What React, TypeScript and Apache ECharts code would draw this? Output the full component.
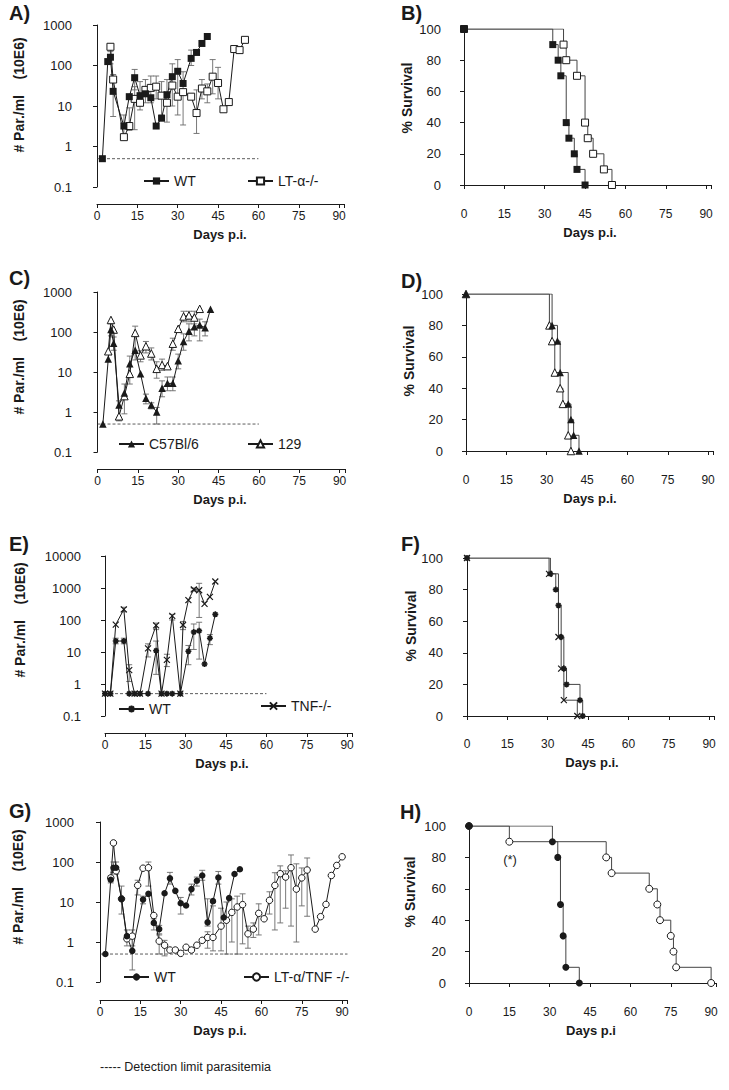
import React, { useEffect, useRef } from 'react';
import * as echarts from 'echarts';

const FONT = '"Liberation Sans", Arial, Helvetica, sans-serif';
const INK = '#1a1a1a';
const GREY = '#6a6a6a';

// ---------- Parasitemia data: [day, parasites x10E6/ml] ----------
const A_WT = [[2,0.5],[4,125],[5,160],[6,23],[10,3.2],[12,17],[14,50],[16,18],[18,20],[20,16],[22,3.2],[24,5],[26,19],[28,53],[30,72],[32,36],[35,150],[37,210],[39,350],[41,520]];
const A_LT = [[5,290],[6,45],[10,1.7],[12,3.2],[14,15],[16,12],[18,25],[20,28],[22,30],[24,18],[26,12],[28,32],[30,17],[32,22],[35,17],[37,6.7],[39,27],[41,23],[43,53],[45,37],[47,8.3],[49,12.5],[51,255],[53,240],[55,430]];
const A_ERR = [[5,110,220],[6,5.5,60],[10,1.8,6],[12,2.5,9],[14,25,80],[14,2.6,30],[16,8,40],[18,12,45],[20,12,55],[22,15,55],[24,6,40],[26,4,45],[28,10,110],[30,6,140],[32,3.4,70],[35,100,240],[37,2.1,25],[39,15,45],[41,12,35],[43,20,140],[45,15,90]];

const C_B6 = [[2,0.5],[4,21],[5,115],[6,52],[8,1.5],[10,3],[12,16],[14,35],[16,9],[18,2.2],[20,1.5],[22,1],[24,3.9],[26,5.2],[28,5.2],[30,19],[32,58],[34,105],[36,135],[38,150],[40,128],[42,370]];
const C_129 = [[4,33],[5,200],[6,115],[8,0.78],[10,2.5],[12,9],[14,95],[16,26],[18,44],[20,29],[22,12],[24,15],[26,14],[28,51],[30,120],[32,245],[34,260],[36,230],[38,380]];
const C_ERR = [[5,80,160],[6,35,75],[8,0.6,1.9],[10,0.9,5],[12,5,25],[14,20,140],[16,18,34],[18,30,58],[18,1.6,2.8],[20,20,40],[20,1.2,1.7],[22,0.5,1.3],[22,7,18],[24,2.4,6],[24,11,21],[26,3.4,7.5],[28,3.4,7.5],[28,35,70],[30,12,28],[32,35,90],[32,180,330],[34,60,160],[34,180,330],[36,80,220],[36,160,330],[38,60,210],[40,80,180]];

const E_WT = [[0,0.5],[2,0.5],[4,22],[7,22],[9,0.5],[11,0.5],[13,0.5],[16,0.5],[19,11],[21,0.5],[23,0.5],[25,0.5],[28,0.5],[31,10.5],[33,42],[35,46],[37,4.2],[39,27],[41,150]];
const E_TNF = [[0,0.5],[2,0.5],[4,72],[7,215],[9,2.7],[11,0.5],[13,0.5],[16,13],[19,68],[21,0.5],[23,5.7],[25,135],[28,0.5],[29,70],[31,420],[33,900],[35,850],[37,320],[39,530],[41,1600]];
const E_ERR = [[4,18,27],[7,18,27],[7,180,250],[9,1.2,4],[16,7,18],[19,50,80],[19,2,22],[23,3.5,8.5],[25,100,150],[29,50,90],[31,4,16],[33,800,1000],[33,12,75],[35,120,1400],[35,6,85],[39,17,35]];

const G_WT = [[2,0.5],[4,36],[5,72],[6,72],[8,12],[10,1.4],[12,0.6],[16,11.5],[18,16],[20,3],[22,2.1],[24,16.5],[26,39],[28,19],[30,9.3],[32,8.2],[34,21],[36,34],[38,46],[40,3.1],[42,10.5],[44,41],[46,4.1],[48,12.5],[50,50],[52,66]];
const G_DKO = [[4,40],[5,300],[6,60],[8,12],[10,1.2],[12,1.4],[14,26],[16,70],[18,72],[20,4.6],[22,1.05],[24,0.83],[26,0.63],[28,0.63],[30,0.52],[32,0.74],[34,0.63],[36,0.83],[38,1.1],[40,1.3],[42,1.3],[45,2.5],[47,3.5],[49,5.5],[51,7.5],[53,8.6],[55,1.6],[57,2.1],[59,5.2],[61,3.8],[63,11],[65,26],[67,51],[69,42],[71,72],[73,21],[75,40],[77,63],[80,2.1],[82,4.3],[84,8.7],[86,46],[88,82],[90,135]];
const G_ERR = [[4,30,45],[5,55,100],[6,50,100],[8,5,25],[10,0.8,2],[12,0.2,1.5],[12,0.8,2],[14,15,35],[16,9,14],[18,25,100],[20,2,3.8],[22,1.5,2.6],[22,0.5,1.6],[24,0.45,1.1],[26,28,55],[30,5,13],[34,15,28],[36,25,42],[38,35,62],[40,0.7,1.8],[40,2.5,12],[42,0.6,8],[44,28,58],[45,0.6,7],[47,0.5,10],[49,1,12],[51,0.5,14],[53,0.9,16],[55,0.7,2.5],[57,1.3,3],[59,1.5,9],[63,5,18],[65,2,54],[67,3,80],[69,7,60],[71,2.5,150],[73,1,90],[75,8,71],[77,4.4,126]];

// detection limit
const DETECTION = 0.5;

// ---------- Survival data: [day, % survival] ----------
const B_WT = [[0,100],[33,90],[35,80],[36,70],[38,40],[39,30],[41,20],[42,10],[45,0]];
const B_LT = [[0,100],[37,90],[38,80],[42,70],[45,40],[46,30],[48,20],[52,10],[55,0]];
const D_B6 = [[0,100],[32,80],[34,70],[35,50],[38,30],[39,20],[40,10],[42,0]];
const D_129 = [[0,100],[31,80],[32,70],[33,50],[35,40],[36,30],[38,10],[39,0]];
const F_WT = [[0,100],[31,90],[33,80],[34,70],[35,50],[36,30],[37,20],[42,10],[43,0]];
const F_TNF = [[0,100],[30.5,90],[34,50],[35,30],[36,10],[41,0]];
const H_WT = [[0,100],[31,90],[33,80],[34,50],[35,30],[36,10],[41,0]];
const H_DKO = [[0,100],[15,90],[51,80],[53,70],[67,60],[70,50],[71,40],[75,30],[76,20],[77,10],[90,0]];

const DAY_TICKS = [0, 15, 30, 45, 60, 75, 90];

const STAR = 'path://M5,0L5,10M0,5L10,5M1.5,1.5L8.5,8.5M8.5,1.5L1.5,8.5';
const CROSS = 'path://M0,0L10,10M10,0L0,10';

const PANELS = [
  { key: 'A', kind: 'para', grid: { left: 97, top: 25, height: 162 }, yMax: 1000, yOff: 19, xOff: 17 },
  { key: 'B', kind: 'surv', grid: { left: 464, top: 29, height: 156 }, yOff: 17, xOff: 17 },
  { key: 'C', kind: 'para', grid: { left: 97.5, top: 292, height: 160 }, yMax: 1000, yOff: 19.5, xOff: 17 },
  { key: 'D', kind: 'surv', grid: { left: 466, top: 294, height: 157 }, yOff: 17, xOff: 17 },
  { key: 'E', kind: 'para', grid: { left: 105, top: 556, height: 160 }, yMax: 10000, yOff: 18, xOff: 17 },
  { key: 'F', kind: 'surv', grid: { left: 467, top: 558, height: 158 }, yOff: 18, xOff: 16 },
  { key: 'G', kind: 'para', grid: { left: 100, top: 822, height: 160 }, yMax: 1000, yOff: 20, xOff: 18 },
  { key: 'H', kind: 'surv', grid: { left: 469, top: 826, height: 157 }, yOff: 17, xOff: 17 },
];

function errRender(params: any, api: any) {
  const x = api.value(0), lo = api.value(1), hi = api.value(2);
  const a = api.coord([x, lo]);
  const b = api.coord([x, hi]);
  const w = 3;
  const style = { stroke: GREY, lineWidth: 0.9, fill: 'none' };
  return {
    type: 'group',
    children: [
      { type: 'line', shape: { x1: a[0], y1: a[1], x2: b[0], y2: b[1] }, style },
      { type: 'line', shape: { x1: a[0] - w, y1: a[1], x2: a[0] + w, y2: a[1] }, style },
      { type: 'line', shape: { x1: b[0] - w, y1: b[1], x2: b[0] + w, y2: b[1] }, style },
    ],
  };
}

function buildOption() {
  const grid: any[] = [];
  const xAxis: any[] = [];
  const yAxis: any[] = [];
  const series: any[] = [];
  const legend: any[] = [];
  const graphic: any[] = [];

  PANELS.forEach((p, i) => {
    grid.push({ left: p.grid.left, top: p.grid.top, width: 247.5, height: p.grid.height, containLabel: false });
    xAxis.push({
      type: 'value', gridIndex: i, min: 0, max: 92, interval: 15, offset: p.xOff,
      axisLine: { show: true, lineStyle: { color: INK, width: 1 } },
      axisTick: { show: true, length: 4, lineStyle: { color: INK, width: 1 } },
      axisLabel: {
        color: INK, fontSize: 12, fontFamily: FONT, margin: 6,
        formatter: (v: number) => (DAY_TICKS.indexOf(v) >= 0 ? String(v) : ''),
      },
      splitLine: { show: false },
    });
    if (p.kind === 'para') {
      yAxis.push({
        type: 'log', logBase: 10, min: 0.1, max: p.yMax, gridIndex: i, offset: p.yOff,
        axisLine: { show: true, lineStyle: { color: INK, width: 1 } },
        axisTick: { show: true, length: 4, lineStyle: { color: INK, width: 1 } },
        axisLabel: { color: INK, fontSize: 13, fontFamily: FONT, margin: 6, formatter: (v: number) => String(Number(v.toPrecision(2))) },
        splitLine: { show: false },
        minorTick: { show: false },
      });
    } else {
      yAxis.push({
        type: 'value', min: 0, max: 100, interval: 20, gridIndex: i, offset: p.yOff,
        axisLine: { show: true, lineStyle: { color: INK, width: 1 } },
        axisTick: { show: true, length: 4, lineStyle: { color: INK, width: 1 } },
        axisLabel: { color: INK, fontSize: 13, fontFamily: FONT, margin: 6 },
        splitLine: { show: false },
      });
    }
  });

  const FILLED = { color: INK, borderColor: INK, borderWidth: 0 };
  const OPEN = { color: '#ffffff', borderColor: INK, borderWidth: 1 };
  const STROKED = (w: number) => ({ color: INK, borderColor: INK, borderWidth: w });

  const lineSeries = (name: string, idx: number, data: number[][], symbol: string, size: number, itemStyle: any, extra: any = {}) => ({
    type: 'line', name, xAxisIndex: idx, yAxisIndex: idx, data, symbol, symbolSize: size,
    showSymbol: true, silent: true, z: 3,
    lineStyle: { color: INK, width: 1 },
    itemStyle,
    emphasis: { disabled: true },
    ...extra,
  });
  const errSeries = (idx: number, data: number[][]) => ({
    type: 'custom', xAxisIndex: idx, yAxisIndex: idx, data, renderItem: errRender,
    encode: { x: 0, y: [1, 2] }, silent: true, z: 1, clip: false,
  });
  const limitSeries = (idx: number, end: number) => ({
    type: 'line', xAxisIndex: idx, yAxisIndex: idx, data: [[0, DETECTION], [end, DETECTION]],
    symbol: 'none', silent: true, z: 0,
    lineStyle: { color: '#333', width: 0.8, type: [3, 2] },
  });
  const surv = (name: string, idx: number, data: number[][], symbol: string, size: number, itemStyle: any) =>
    lineSeries(name, idx, data, symbol, size, itemStyle, { step: 'end', lineStyle: { color: '#444', width: 1 } });

  // A
  series.push(limitSeries(0, 60), errSeries(0, A_ERR));
  series.push(lineSeries('A|LT-α-/-', 0, A_LT, 'rect', 7, OPEN));
  series.push(lineSeries('A|WT', 0, A_WT, 'rect', 7, FILLED));
  // B
  series.push(surv('B|LT', 1, B_LT, 'rect', 7, OPEN));
  series.push(surv('B|WT', 1, B_WT, 'rect', 7, FILLED));
  // C
  series.push(limitSeries(2, 60), errSeries(2, C_ERR));
  series.push(lineSeries('C|129', 2, C_129, 'triangle', 7.5, OPEN));
  series.push(lineSeries('C|C57Bl/6', 2, C_B6, 'triangle', 7.5, FILLED));
  // D
  series.push(surv('D|129', 3, D_129, 'triangle', 7.5, OPEN));
  series.push(surv('D|B6', 3, D_B6, 'triangle', 7.5, FILLED));
  // E
  series.push(limitSeries(4, 60), errSeries(4, E_ERR));
  series.push(lineSeries('E|TNF-/-', 4, E_TNF, CROSS, 6, STROKED(1.2)));
  series.push(lineSeries('E|WT', 4, E_WT, STAR, 6, STROKED(1.6)));
  // F
  series.push(surv('F|TNF', 5, F_TNF, CROSS, 6, STROKED(1.2)));
  series.push(surv('F|WT', 5, F_WT, STAR, 6, STROKED(1.6)));
  // G
  series.push(limitSeries(6, 92), errSeries(6, G_ERR));
  series.push(lineSeries('G|LT-α/TNF -/-', 6, G_DKO, 'circle', 6.5, OPEN));
  series.push(lineSeries('G|WT', 6, G_WT, 'circle', 6.5, FILLED));
  // H
  series.push(surv('H|DKO', 7, H_DKO, 'circle', 7, OPEN));
  series.push(surv('H|WT', 7, H_WT, 'circle', 7, FILLED));

  const leg = (name: string, left: number, cy: number) => ({
    data: [name], left, top: cy - 8, orient: 'horizontal', padding: 0,
    itemWidth: 25, itemHeight: 9, selectedMode: false,
    formatter: (n: string) => n.split('|')[1],
    textStyle: { color: INK, fontSize: 14, fontFamily: FONT },
  });
  legend.push(
    leg('A|WT', 143, 182), leg('A|LT-α-/-', 247, 182),
    leg('C|C57Bl/6', 118, 445), leg('C|129', 247, 445),
    leg('E|WT', 118, 710), leg('E|TNF-/-', 260, 707),
    leg('G|WT', 123, 978), leg('G|LT-α/TNF -/-', 243, 978),
  );

  const txt = (text: string, x: number, y: number, font: string, opts: any = {}) => ({
    type: 'text', x, y, silent: true,
    style: { text, font, fill: INK, align: opts.align || 'left', verticalAlign: opts.va || 'top' },
    rotation: opts.rotation || 0,
  });
  const letterFont = `bold 20px ${FONT}`;
  graphic.push(
    txt('A)', 9, 3, letterFont), txt('B)', 401, 3, letterFont),
    txt('C)', 9, 268, letterFont), txt('D)', 401, 271, letterFont),
    txt('E)', 9, 534, letterFont), txt('F)', 401, 534, letterFont),
    txt('G)', 9, 801, letterFont), txt('H)', 400, 802, letterFont),
  );
  const yTitleFont = `bold 14px ${FONT}`;
  const rot = { align: 'center', va: 'middle', rotation: Math.PI / 2 };
  graphic.push(
    txt('# Par./ml    (10E6)', 19, 95, yTitleFont, rot),
    txt('# Par./ml    (10E6)', 19, 357, yTitleFont, rot),
    txt('# Par./ml    (10E6)', 20, 620, yTitleFont, rot),
    txt('# Par./ml    (10E6)', 18, 887, yTitleFont, rot),
    txt('% Survival', 407, 98, yTitleFont, rot),
    txt('% Survival', 409, 361, yTitleFont, rot),
    txt('% Survival', 411, 626, yTitleFont, rot),
    txt('% Survival', 410, 892, yTitleFont, rot),
  );
  const xTitleFont = `bold 13px ${FONT}`;
  const ctr = { align: 'center', va: 'middle' };
  graphic.push(
    txt('Days p.i.', 220, 234, xTitleFont, ctr), txt('Days p.i.', 590, 232, xTitleFont, ctr),
    txt('Days p.i.', 220, 499, xTitleFont, ctr), txt('Days p.i.', 590, 498, xTitleFont, ctr),
    txt('Days p.i.', 222, 763, xTitleFont, ctr), txt('Days p.i.', 592, 762, xTitleFont, ctr),
    txt('Days p.i.', 220, 1030, xTitleFont, ctr), txt('Days p.i', 591, 1030, xTitleFont, ctr),
  );
  graphic.push(
    txt('(*)', 510, 859, `13px ${FONT}`, ctr),
    txt('----- Detection limit parasitemia', 100, 1067, `12.5px ${FONT}`, { va: 'middle' }),
  );

  return {
    animation: false,
    backgroundColor: '#ffffff',
    grid, xAxis, yAxis, series, legend,
    graphic: { elements: graphic },
  };
}

export default function App() {
  const ref = useRef<HTMLDivElement>(null);
  useEffect(() => {
    if (!ref.current) return;
    const chart = echarts.init(ref.current, null, { renderer: 'svg', width: 729, height: 1090 });
    chart.setOption(buildOption() as any);
    return () => chart.dispose();
  }, []);
  return (
    <div
      ref={ref}
      style={{ position: 'absolute', left: 0, top: 0, width: 729, height: 1090, background: '#fff' }}
    />
  );
}
